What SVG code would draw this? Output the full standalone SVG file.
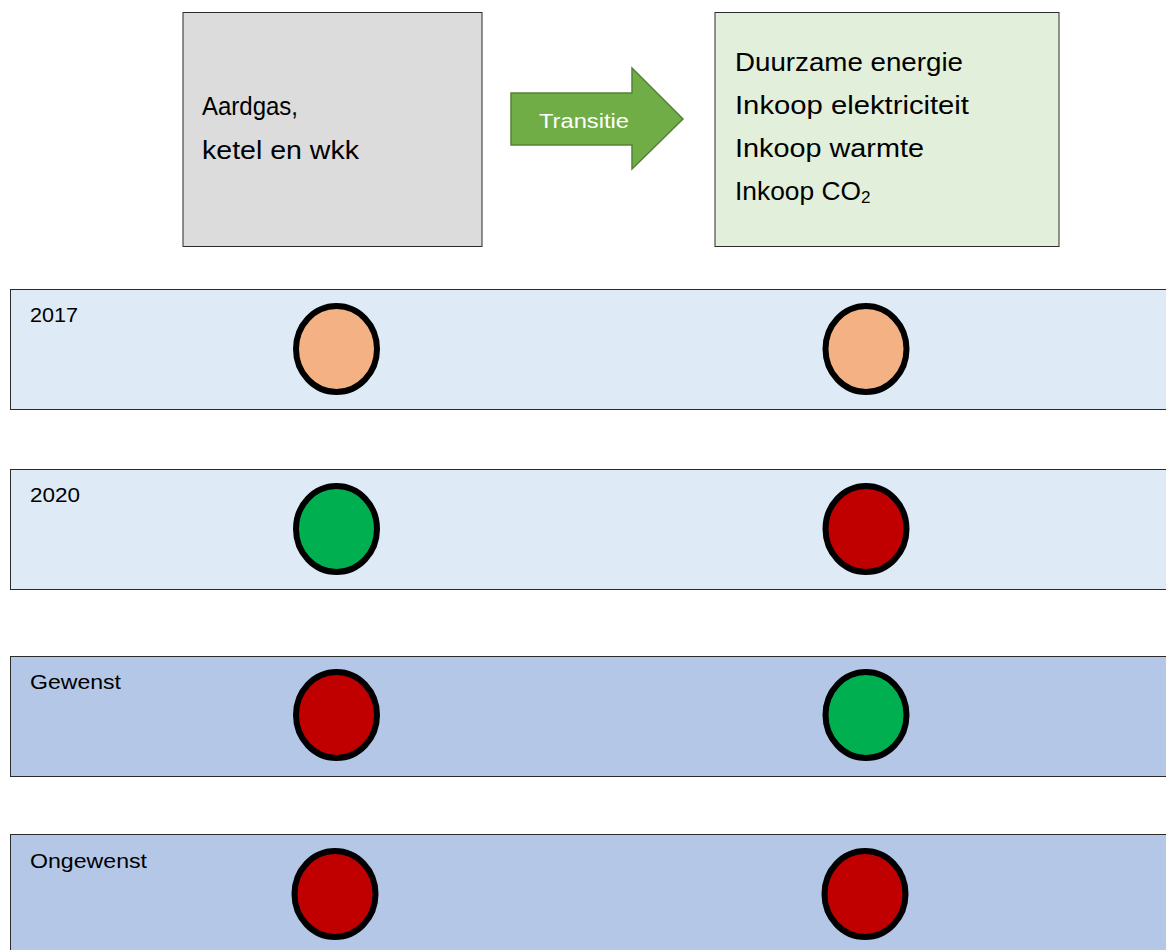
<svg xmlns="http://www.w3.org/2000/svg" width="1166" height="950" viewBox="0 0 1166 950">
<style>
text{font-family:"Liberation Sans",Arial,sans-serif;fill:#000}
.big{font-size:25.5px}
.lbl{font-size:20px}
.band1{fill:#DEEAF6;stroke:#2b2b2b;stroke-width:1}
.band2{fill:#B4C7E7;stroke:#2b2b2b;stroke-width:1}
.dot{stroke:#000;stroke-width:6}
.or{fill:#F4B183}.gr{fill:#00B050}.rd{fill:#C00000}
</style>
<rect width="1166" height="950" fill="#fff"/>
<g id="gas">
<rect x="183" y="12.5" width="299" height="234" fill="#DCDCDC" stroke="#2b2b2b" stroke-width="1"/>
<text class="big" x="202" y="115" textLength="96" lengthAdjust="spacingAndGlyphs">Aardgas,</text>
<text class="big" x="202" y="159" textLength="157" lengthAdjust="spacingAndGlyphs">ketel en wkk</text>
</g>
<g id="connectors">
<g id="transitie">
<polygon points="511,93 632,93 632,68 683,119 632,169 632,145 511,145" fill="#70AD47" stroke="#548235" stroke-width="1.5"/>
<text x="584" y="128" text-anchor="middle" style="font-size:20px;fill:#fff" textLength="90" lengthAdjust="spacingAndGlyphs">Transitie</text>
</g>
</g>
<g id="duurzaam">
<rect x="715" y="12.5" width="344" height="234" fill="#E2EFDA" stroke="#2b2b2b" stroke-width="1"/>
<text class="big" x="735" y="71" textLength="228" lengthAdjust="spacingAndGlyphs">Duurzame energie</text>
<text class="big" x="735" y="114" textLength="234" lengthAdjust="spacingAndGlyphs">Inkoop elektriciteit</text>
<text class="big" x="735" y="157" textLength="189" lengthAdjust="spacingAndGlyphs">Inkoop warmte</text>
<text class="big" x="735" y="200"><tspan textLength="126" lengthAdjust="spacingAndGlyphs">Inkoop CO</tspan><tspan font-size="17" dy="3">2</tspan></text>
</g>
<g id="row2017">
<rect class="band1" x="10.5" y="289.5" width="1160" height="120"/>
<text class="lbl" x="30" y="322" textLength="48" lengthAdjust="spacingAndGlyphs">2017</text>
<ellipse class="dot or" cx="336.5" cy="349" rx="40.5" ry="43"/>
<ellipse class="dot or" cx="866" cy="349" rx="40.5" ry="43"/>
</g>
<g id="row2020">
<rect class="band1" x="10.5" y="469.5" width="1160" height="120"/>
<text class="lbl" x="30" y="502" textLength="50" lengthAdjust="spacingAndGlyphs">2020</text>
<ellipse class="dot gr" cx="336.5" cy="529" rx="40.5" ry="43"/>
<ellipse class="dot rd" cx="866" cy="529" rx="40.5" ry="43"/>
</g>
<g id="rowGewenst">
<rect class="band2" x="10.5" y="656.5" width="1160" height="120"/>
<text class="lbl" x="30" y="689" textLength="91" lengthAdjust="spacingAndGlyphs">Gewenst</text>
<ellipse class="dot rd" cx="336.5" cy="715" rx="40.5" ry="43"/>
<ellipse class="dot gr" cx="866" cy="715" rx="40.5" ry="43"/>
</g>
<g id="rowOngewenst">
<rect class="band2" x="10.5" y="834.5" width="1160" height="130"/>
<text class="lbl" x="30" y="868" textLength="117" lengthAdjust="spacingAndGlyphs">Ongewenst</text>
<ellipse class="dot rd" cx="335" cy="894" rx="40.5" ry="43"/>
<ellipse class="dot rd" cx="865" cy="894" rx="40.5" ry="43"/>
</g>
</svg>
